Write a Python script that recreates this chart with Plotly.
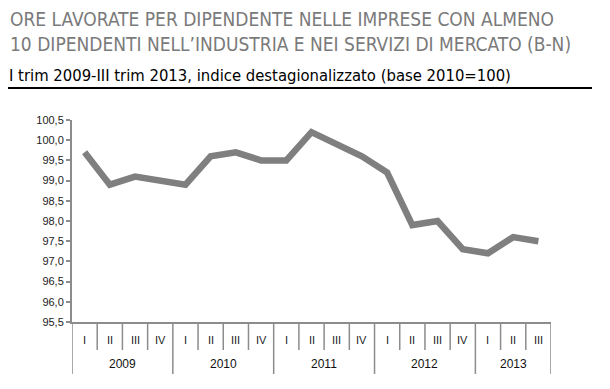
import plotly.graph_objects as go

years = ["2009", "2010", "2011", "2012", "2013"]
quarters_per_year = [["I", "II", "III", "IV"], ["I", "II", "III", "IV"], ["I", "II", "III", "IV"],
                     ["I", "II", "III", "IV"], ["I", "II", "III"]]
values = [99.7, 98.9, 99.1, 99.0,
          98.9, 99.6, 99.7, 99.5,
          99.5, 100.2, 99.9, 99.6,
          99.2, 97.9, 98.0, 97.3,
          97.2, 97.6, 97.5]
y_ticks = [95.5, 96.0, 96.5, 97.0, 97.5, 98.0, 98.5, 99.0, 99.5, 100.0, 100.5]

title_l1 = "ORE LAVORATE PER DIPENDENTE NELLE IMPRESE CON ALMENO"
title_l2 = "10 DIPENDENTI NELL\u2019INDUSTRIA E NEI SERVIZI DI MERCATO (B-N)"
subtitle = "I trim 2009-III trim 2013, indice destagionalizzato (base 2010=100)"

# the page body adds an 8px offset; lay out in page pixels and compensate
OFF = 8
W, H = 610 - OFF, 389 - OFF
L, T = 72 - OFF, 120 - OFF
R = W - (551 - OFF)
B = H - (322 - OFF)
pw, ph = W - L - R, H - T - B

def px_x(px):
    return (px - OFF - L) / pw

def px_y(py):
    return (H - B - (py - OFF)) / ph

quarter_labels = [q for qs in quarters_per_year for q in qs]
xs = list(range(len(quarter_labels)))

NARROW = "DejaVu Sans Condensed"
SANS = "Liberation Sans, Arial, sans-serif"
GRID = "#8c8c8c"

fig = go.Figure()
fig.add_trace(go.Scatter(x=xs, y=values, mode="lines",
                         line=dict(color="#7f7f7f", width=6.5), hoverinfo="skip"))

shapes = []
annotations = []
idx = 0
bounds = [0]
for qs in quarters_per_year:
    idx += len(qs)
    bounds.append(idx)
for i in range(len(quarter_labels) + 1):
    is_year = i in bounds
    shapes.append(dict(type="line", xref="x", yref="paper",
                       x0=i - 0.5, x1=i - 0.5, y0=0, y1=px_y(374 if is_year else 350),
                       line=dict(color=GRID, width=1.5)))
for i, q in enumerate(quarter_labels):
    annotations.append(dict(x=i, y=px_y(340), xref="x", yref="paper", text=q, showarrow=False,
                            font=dict(family=SANS, size=11, color="#222"), xanchor="center", yanchor="middle"))
for y, a, b in zip(years, bounds[:-1], bounds[1:]):
    annotations.append(dict(x=(a + b - 1) / 2, y=px_y(364), xref="x", yref="paper", text=y, showarrow=False,
                            font=dict(family=SANS, size=12, color="#111"), xanchor="center", yanchor="middle"))

annotations.append(dict(x=px_x(8), y=px_y(19), xref="paper", yref="paper", text=title_l1, showarrow=False,
                        font=dict(family=NARROW, size=19, color="#7a7a7a"), xanchor="left", yanchor="middle"))
annotations.append(dict(x=px_x(8), y=px_y(44), xref="paper", yref="paper", text=title_l2, showarrow=False,
                        font=dict(family=NARROW, size=19, color="#7a7a7a"), xanchor="left", yanchor="middle"))
annotations.append(dict(x=px_x(7), y=px_y(75), xref="paper", yref="paper", text=subtitle, showarrow=False,
                        font=dict(family=NARROW, size=16.5, color="#000"), xanchor="left", yanchor="middle"))
shapes.append(dict(type="line", xref="paper", yref="paper", x0=px_x(8), x1=px_x(592),
                   y0=px_y(88), y1=px_y(88), line=dict(color="#000", width=2)))

fig.update_layout(
    width=W, height=H,
    margin=dict(l=L, r=R, t=T, b=B),
    paper_bgcolor="white", plot_bgcolor="white",
    showlegend=False,
    separators=",.",
    shapes=shapes, annotations=annotations,
    xaxis=dict(range=[-0.5, len(quarter_labels) - 0.5], showticklabels=False, showgrid=False,
               zeroline=False, showline=True, linecolor=GRID, linewidth=2, ticks=""),
    yaxis=dict(range=[95.5, 100.5], tickvals=y_ticks, tickformat=".1f", showgrid=False, zeroline=False,
               showline=True, linecolor=GRID, linewidth=2, ticks="outside", ticklen=4, tickcolor=GRID,
               tickwidth=1.5, tickfont=dict(family=SANS, size=11, color="#222")),
)

fig.write_html("out.html")
